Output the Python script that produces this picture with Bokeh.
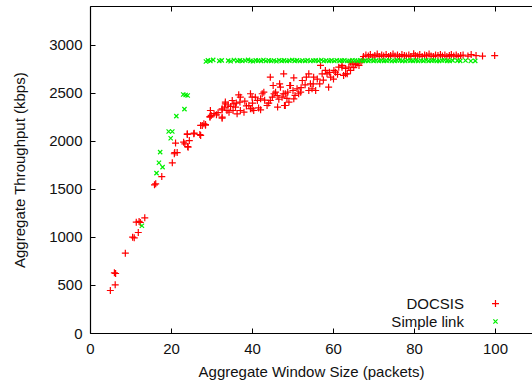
from bokeh.plotting import figure
from bokeh.models import LinearAxis, FixedTicker, Label, Range1d
from bokeh.embed import file_html
from bokeh.resources import INLINE

# ---------------- data ----------------
docsis_x = [4.9, 6.1, 5.9, 6.2, 8.6, 10.4, 10.8, 11.8, 11.3, 12.0, 12.3, 13.4, 15.8, 16.1, 17.6,
            20.2, 20.8, 20.7, 21.4, 21.0, 23.0, 23.3, 24.1, 24.0, 24.4, 23.9, 23.9, 25.6, 25.5,
            27.0, 27.2, 27.2, 27.6, 28.0, 28.4, 28.4,
            29.5, 29.5, 29.6, 29.8, 30.5, 31.1, 31.5, 32.5, 32.5, 32.5, 32.5, 33.1, 33.3, 33.3,
            33.7, 34.0, 34.2, 34.6, 35.0, 35.2, 35.4, 35.8, 36.0, 36.2, 36.6, 36.9, 37.0, 37.0,
            37.9, 38.1, 38.5, 39.1, 39.5, 39.5, 39.9, 39.9, 40.0, 40.3, 40.7, 41.2, 41.5, 42.0,
            42.0, 42.4, 42.8, 43.0, 43.6, 44.0, 44.4, 44.4, 44.9, 45.1, 45.3, 45.7, 46.1, 46.2,
            46.5, 46.7, 46.9, 47.3, 47.6, 47.7, 47.9, 48.1, 48.1, 48.5, 48.7, 49.0, 49.2, 49.4,
            50.0, 50.2, 50.2, 50.5, 51.0, 51.4, 51.9, 52.0, 52.3, 53.0, 53.3, 53.9, 53.9, 54.3,
            54.7, 55.0, 55.1, 55.6, 56.0, 56.6, 56.8, 57.2, 57.5, 58.0, 58.4, 58.8, 59.0, 59.3,
            60.0, 60.1, 60.5, 61.0, 61.3, 62.1, 62.1, 62.5, 63.0, 63.0, 63.4, 63.8, 64.2, 64.2,
            64.6, 65.0, 65.4, 65.8, 66.3, 66.8, 67.2,
            67.4, 68.0, 68.6, 69.1, 69.7, 70.2, 70.8, 71.3, 71.9, 72.4, 73.0, 73.6, 74.1, 74.7,
            75.2, 75.8, 76.3, 76.9, 77.5, 78.0, 78.6, 79.1, 79.8, 80.2, 80.8, 81.3, 81.9, 82.5,
            83.0, 83.6, 84.1, 84.7, 85.2, 85.8, 86.4, 86.9, 87.5, 88.0, 88.6, 89.1, 89.7, 90.3,
            90.8, 91.4, 92.0, 93.2, 94.0, 95.2, 96.8, 99.8]
docsis_y = [448, 507, 632, 625, 837, 1003, 997, 1052, 1160, 1167, 1156, 1205, 1549, 1559, 1635,
            1778, 1885, 1872, 1885, 1983, 1993, 1976, 1941, 1948, 2010, 2073, 2080, 2087, 2080,
            2073, 2063, 2167, 2167, 2184, 2177, 2170,
            2253, 2260, 2323, 2271, 2290, 2278, 2300, 2243, 2253, 2330, 2341, 2358, 2392, 2410,
            2323, 2380, 2305, 2365, 2427, 2323, 2392, 2358, 2400, 2288, 2486, 2410, 2462, 2323,
            2305, 2420, 2370, 2375, 2497, 2341, 2462, 2341, 2400, 2323, 2462, 2427, 2350, 2444,
            2330, 2497, 2514, 2430, 2375, 2400, 2670, 2427, 2462, 2583, 2497, 2514, 2479, 2358,
            2440, 2601, 2566, 2462, 2497, 2705, 2375, 2375, 2497, 2450, 2514, 2410, 2583, 2583,
            2531, 2663, 2444, 2480, 2549, 2497, 2514, 2560, 2635, 2590, 2670, 2705, 2531, 2601,
            2549, 2600, 2670, 2531, 2650, 2601, 2792, 2705, 2640, 2740, 2705, 2566, 2720, 2670,
            2650, 2740, 2722, 2700, 2774, 2792, 2774, 2688, 2760, 2705, 2705, 2774, 2740, 2826,
            2809, 2770, 2802, 2816, 2792, 2830, 2850,
            2885, 2900, 2890, 2905, 2880, 2895, 2910, 2885, 2900, 2890, 2905, 2885, 2895, 2910,
            2890, 2900, 2885, 2905, 2895, 2890, 2900, 2885, 2913, 2895, 2890, 2905, 2885, 2900,
            2895, 2910, 2890, 2885, 2900, 2895, 2905, 2890, 2900, 2885, 2895, 2905, 2890, 2900,
            2885, 2895, 2900, 2890, 2905, 2895, 2890, 2895]

simple_x = [12.7, 16.3, 17.8, 16.9, 17.2, 19.8, 19.3, 20.2, 21.2, 23.2, 22.9, 24.0, 23.5,
            28.5, 29.0, 29.6, 30.3, 31.8, 32.4, 34.0, 34.6, 35.4, 36.3, 36.9, 37.5, 38.2, 38.9,
            39.5, 40.1, 40.8, 41.4, 42.1, 42.7, 43.3, 44.0, 44.6, 45.3, 45.9, 46.6, 47.2, 47.8,
            48.5, 49.1, 49.8, 50.4, 51.0, 51.7, 52.3, 53.0, 53.6, 54.3, 55.0, 55.6, 56.3, 57.0,
            57.6, 58.2, 58.9, 59.5, 60.2, 60.8, 61.5, 62.1, 62.7, 63.4, 64.0, 64.7, 65.3, 66.0,
            66.6, 67.3, 67.9, 68.6, 69.2, 69.9, 70.5, 71.2, 71.8, 72.5, 73.1, 73.8, 74.4, 75.1,
            75.7, 76.4, 77.0, 77.7, 78.3, 79.0, 79.6, 80.3, 80.9, 81.6, 82.2, 82.9, 83.5, 84.2,
            84.8, 85.5, 86.1, 86.8, 87.4, 88.1, 88.7, 89.4, 90.6, 91.3, 92.6, 93.9, 95.0]
simple_y = [1122, 1670, 1733, 1778, 1889, 2034, 2104, 2104, 2264, 2337, 2490, 2479, 2485,
            2833, 2845, 2838, 2850, 2840, 2845, 2842, 2836, 2848, 2840, 2845, 2838, 2843, 2850,
            2840, 2836, 2845, 2842, 2840, 2848, 2838, 2845, 2840, 2843, 2836, 2846, 2840, 2845,
            2838, 2842, 2848, 2840, 2845, 2838, 2843, 2840, 2846, 2838, 2842, 2845, 2840, 2848,
            2838, 2843, 2840, 2845, 2838, 2846, 2840, 2842, 2845, 2838, 2840, 2846, 2843, 2840,
            2845, 2838, 2842, 2840, 2846, 2840, 2843, 2838, 2845, 2840, 2842, 2846, 2838, 2840,
            2845, 2843, 2840, 2838, 2846, 2842, 2840, 2845, 2838, 2843, 2840, 2846, 2840, 2842,
            2845, 2838, 2840, 2843, 2846, 2840, 2838, 2845, 2842, 2840, 2843, 2838, 2840]

x_ticks = [0, 20, 40, 60, 80, 100]
y_ticks = [0, 500, 1000, 1500, 2000, 2500, 3000]
series_names = ["DOCSIS", "Simple link"]
x_title = "Aggregate Window Size (packets)"
y_title = "Aggregate Throughput (kbps)"

# ---------------- styling ----------------
FONT = "Liberation Sans"
RED = "#ff0000"
GREEN = "#00f000"

p = figure(width=532, height=385, output_backend="svg", toolbar_location=None,
           x_range=Range1d(0, 109.14), y_range=Range1d(0, 3406),
           x_axis_location=None, y_axis_location=None)
p.min_border_left = 90
p.min_border_right = 0
p.min_border_top = 6
p.min_border_bottom = 52
p.outline_line_color = None
p.xgrid.visible = False
p.ygrid.visible = False
p.background_fill_color = "white"
p.border_fill_color = "white"

def style_axis(ax, ticks, labels=True):
    ax.ticker = FixedTicker(ticks=ticks)
    ax.axis_line_color = "black"
    ax.axis_line_width = 1.2
    ax.major_tick_line_color = "black"
    ax.major_tick_in = 5
    ax.major_tick_out = 0
    ax.minor_tick_in = 0
    ax.minor_tick_out = 0
    ax.major_label_text_font = FONT
    ax.axis_label_text_font = FONT
    ax.axis_label_text_font_style = "normal"
    ax.axis_label_text_color = "#111111"
    if labels:
        ax.major_label_text_color = "#111111"
        ax.major_label_text_font_size = "15px"
        ax.axis_label_text_font_size = "15px"
    else:
        # mirror ticks only: labels are not drawn at all
        ax.major_label_text_color = None
        ax.major_label_text_font_size = "0px"
        ax.major_label_standoff = 0

xaxis = LinearAxis(axis_label=x_title)
style_axis(xaxis, x_ticks)
xaxis.major_label_standoff = 10
xaxis.axis_label_standoff = 6
p.add_layout(xaxis, "below")

yaxis = LinearAxis(axis_label=y_title)
style_axis(yaxis, y_ticks)
yaxis.major_label_standoff = 8
yaxis.axis_label_standoff = 18
p.add_layout(yaxis, "left")

top = LinearAxis()
style_axis(top, x_ticks, labels=False)
p.add_layout(top, "above")

p.scatter(docsis_x, docsis_y, marker="cross", size=7, line_color=RED, line_width=1.2)
p.scatter(simple_x, simple_y, marker="x", size=6, line_color=GREEN, line_width=1.2)

# legend (gnuplot style: text right-aligned, sample to the right)
legend_text_x = 92.2
legend_key_x = 100.0
legend_rows_y = [312, 125]
legend_markers = ["cross", "x"]
legend_sizes = [7, 6]
legend_colors = [RED, GREEN]
for name, ly, mk, sz, col in zip(series_names, legend_rows_y, legend_markers,
                                 legend_sizes, legend_colors):
    p.add_layout(Label(x=legend_text_x, y=ly, text=name, text_align="right",
                       text_baseline="middle", text_font=FONT, text_font_size="15px",
                       text_color="#111111"))
    p.scatter([legend_key_x], [ly], marker=mk, size=sz, line_color=col, line_width=1.2)

open("out.html", "w").write(file_html(p, INLINE))
